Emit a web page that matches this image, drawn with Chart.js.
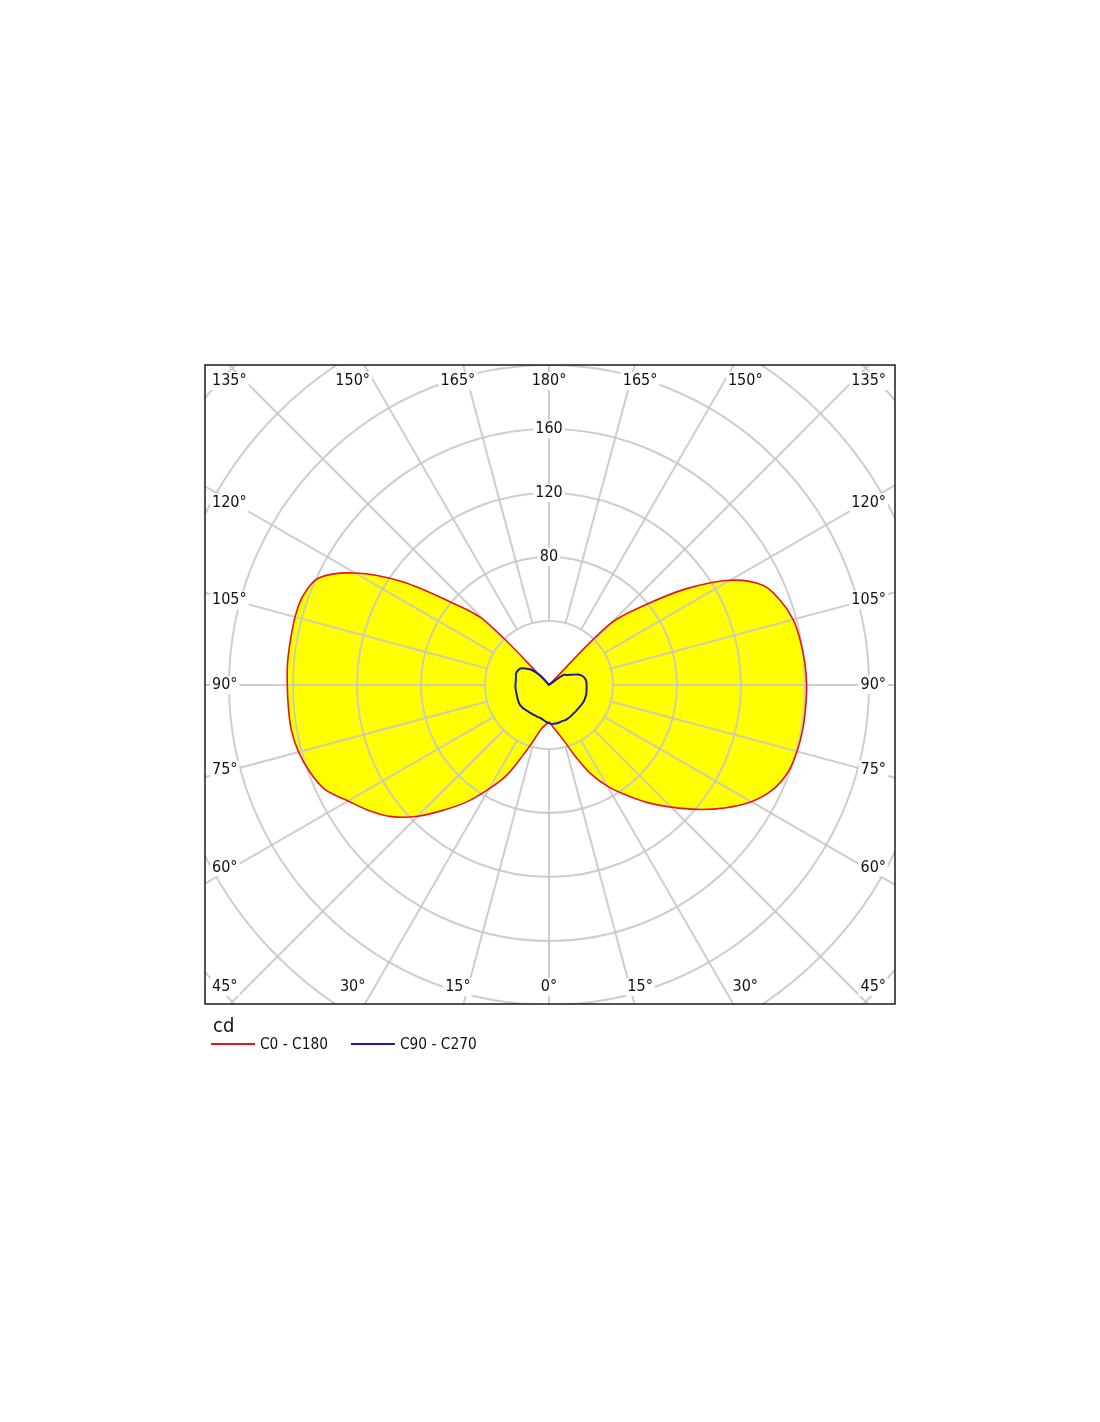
<!DOCTYPE html>
<html lang="en">
<head>
<meta charset="UTF-8">
<title>Polar intensity diagram</title>
<style>
  html, body { margin: 0; padding: 0; background: #fff; overflow: hidden; }
  #polar { display: block; }
</style>
</head>
<body>
<canvas id="polar" width="1100" height="1422"></canvas>
<script src="https://cdn.jsdelivr.net/npm/chart.js"></script>
<script>
  // gamma angle from nadir (deg)
  const gammaAngles = [0, 5, 10, 15, 20, 25, 30, 35, 40, 45, 50, 55, 60, 65, 70, 75, 80, 85, 90,
    95, 100, 105, 110, 115, 120, 125, 130, 135, 140, 145, 150, 155, 160, 165, 170, 175, 180];

  // intensity, cd
  const c0Values = [23, 26, 30, 36, 47, 61, 73, 84, 96, 108, 121, 134, 146, 154.5, 159, 160.5, 161, 161, 161,
    160.5, 159.5, 158, 154, 147.5, 131, 105, 77, 54, 0, 0, 0, 0, 0, 0, 0, 0, 0];
  const c180Values = [23, 25, 28, 35, 46, 62, 75, 89, 102, 116, 128, 137, 145, 154.5, 159, 162, 163.5, 163.5, 163.6,
    164, 164, 164.3, 163.5, 158.5, 140, 113, 81, 57, 0, 0, 0, 0, 0, 0, 0, 0, 0];
  const c90Values = [24, 24.5, 24.5, 24.3, 24, 24.2, 24, 23.8, 23.5, 23.5, 23.4, 23.6, 23.8, 24, 24, 24, 23.8, 23.6, 23.5,
    23.4, 22.9, 21.7, 19.2, 15, 12.5, 11, 0, 0, 0, 0, 0, 0, 0, 0, 0, 0, 0];
  const c270Values = [24, 23, 22, 21.3, 21.2, 21, 21, 21, 21.2, 21.5, 21.8, 22, 21.8, 21.5, 21.2, 21, 21, 21, 21,
    20.9, 21, 21.4, 21.8, 21.5, 20.5, 18, 15, 10.5, 5, 0, 0, 0, 0, 0, 0, 0, 0];

  const seriesNames = ['C0 - C180', 'C90 - C270'];
  const unitLabel = 'cd';
  const ringValues = [40, 80, 120, 160, 200, 240, 280];
  const ringLabels = [80, 120, 160];
  const spokeAngles = [0, 15, 30, 45, 60, 75, 90, 105, 120, 135, 150, 165, 180];

  const FONT = '"DejaVu Sans Condensed", "DejaVu Sans", sans-serif';

  // right half from one plane, left half from the opposite plane
  function toPoints(right, left) {
    const pts = [];
    gammaAngles.forEach((g, i) => {
      const a = g * Math.PI / 180;
      pts.push({ x: right[i] * Math.sin(a), y: -right[i] * Math.cos(a) });
    });
    for (let i = gammaAngles.length - 1; i >= 0; i--) {
      const a = gammaAngles[i] * Math.PI / 180;
      pts.push({ x: -left[i] * Math.sin(a), y: -left[i] * Math.cos(a) });
    }
    return pts;
  }

  function boxedText(ctx, text, x, y, align) {
    const w = ctx.measureText(text).width;
    let x0 = x;
    if (align === 'center') x0 = x - w / 2;
    if (align === 'right') x0 = x - w;
    ctx.fillStyle = '#fff';
    ctx.fillRect(x0 - 2, y - 9, w + 4, 18);
    ctx.fillStyle = '#111';
    ctx.textAlign = 'left';
    ctx.fillText(text, x0, y);
  }

  const polarGrid = {
    id: 'polarGrid',
    beforeDatasetsDraw(chart) {
      const { ctx, chartArea: area, scales: { x, y } } = chart;
      const cx = x.getPixelForValue(0), cy = y.getPixelForValue(0);
      const rad = v => x.getPixelForValue(v) - cx;
      ctx.save();
      ctx.beginPath();
      ctx.rect(area.left, area.top, area.right - area.left, area.bottom - area.top);
      ctx.clip();
      ctx.strokeStyle = 'rgba(198,198,198,0.85)';
      ctx.lineWidth = 2;
      ringValues.forEach(v => {
        ctx.beginPath();
        ctx.arc(cx, cy, rad(v), 0, Math.PI * 2);
        ctx.stroke();
      });
      const r0 = rad(ringValues[0]);
      const r1 = rad(ringValues[ringValues.length - 1]) + 120;
      spokeAngles.forEach(g => {
        const sides = (g === 0 || g === 180) ? [1] : [1, -1];
        sides.forEach(s => {
          const a = g * Math.PI / 180;
          const dx = s * Math.sin(a), dy = Math.cos(a);
          ctx.beginPath();
          ctx.moveTo(cx + dx * r0, cy + dy * r0);
          ctx.lineTo(cx + dx * r1, cy + dy * r1);
          ctx.stroke();
        });
      });
      ctx.restore();
    },
    afterDatasetsDraw(chart) {
      const { ctx, chartArea: area, scales: { x, y } } = chart;
      const cx = x.getPixelForValue(0), cy = y.getPixelForValue(0);
      const rad = v => x.getPixelForValue(v) - cx;
      ctx.save();
      ctx.font = '16px ' + FONT;
      ctx.textBaseline = 'middle';

      ringLabels.forEach(v => boxedText(ctx, String(v), cx, cy - rad(v), 'center'));

      // angle labels along the frame
      const halfW = 316, halfH = 340;
      spokeAngles.forEach(g => {
        const sides = (g === 0 || g === 180) ? [1] : [1, -1];
        sides.forEach(s => {
          const a = g * Math.PI / 180;
          const dx = s * Math.sin(a), dy = Math.cos(a);
          const tSide = Math.abs(dx) > 1e-9 ? halfW / Math.abs(dx) : Infinity;
          const tTop = Math.abs(dy) > 1e-9 ? halfH / Math.abs(dy) : Infinity;
          const text = g + '°';
          if (tSide <= tTop) {
            let ly = cy + dy * tSide;
            ly = Math.min(Math.max(ly, area.top + 16), area.bottom - 17);
            if (s > 0) boxedText(ctx, text, area.right - 9, ly, 'right');
            else boxedText(ctx, text, area.left + 7, ly, 'left');
          } else {
            const lx = cx + dx * tTop;
            const ly = dy < 0 ? area.top + 16 : area.bottom - 17;
            boxedText(ctx, text, lx, ly, 'center');
          }
        });
      });

      // frame
      ctx.strokeStyle = '#1a1a1a';
      ctx.lineWidth = 1.5;
      ctx.strokeRect(area.left, area.top, area.right - area.left, area.bottom - area.top);

      // unit + legend
      ctx.fillStyle = '#111';
      ctx.textAlign = 'left';
      ctx.font = '20px ' + FONT;
      ctx.fillText(unitLabel, area.left + 8, area.bottom + 23);
      ctx.font = '15.3px ' + FONT;
      let lx = area.left + 6;
      const ly = area.bottom + 40;
      chart.data.datasets.forEach(ds => {
        ctx.strokeStyle = ds.borderColor;
        ctx.lineWidth = 2;
        ctx.beginPath();
        ctx.moveTo(lx, ly);
        ctx.lineTo(lx + 44, ly);
        ctx.stroke();
        ctx.fillStyle = '#111';
        ctx.fillText(ds.label, lx + 49, ly + 1);
        lx += 49 + ctx.measureText(ds.label).width + 23;
      });
      ctx.restore();
    }
  };

  const ctx = document.getElementById('polar');

  new Chart(ctx, {
    type: 'scatter',
    data: {
      datasets: [
        {
          label: seriesNames[0],
          data: toPoints(c0Values, c180Values),
          borderColor: '#e3161e',
          backgroundColor: '#ffff00',
          borderWidth: 1.6,
          fill: 'shape',
          showLine: true,
          pointRadius: 0,
          tension: 0.35,
          order: 1
        },
        {
          label: seriesNames[1],
          data: toPoints(c90Values, c270Values),
          borderColor: '#1d1d96',
          borderWidth: 2,
          fill: false,
          showLine: true,
          pointRadius: 0,
          tension: 0.35,
          order: 0
        }
      ]
    },
    options: {
      responsive: false,
      animation: false,
      devicePixelRatio: 1,
      events: [],
      layout: { padding: { left: 205, top: 365, right: 205, bottom: 418 } },
      scales: {
        x: { type: 'linear', min: -215, max: 216.25, display: false },
        y: { type: 'linear', min: -199.4, max: 200, display: false }
      },
      plugins: {
        legend: { display: false },
        tooltip: { enabled: false },
        filler: { drawTime: 'beforeDraw' }
      }
    },
    plugins: [polarGrid]
  });
</script>
</body>
</html>
